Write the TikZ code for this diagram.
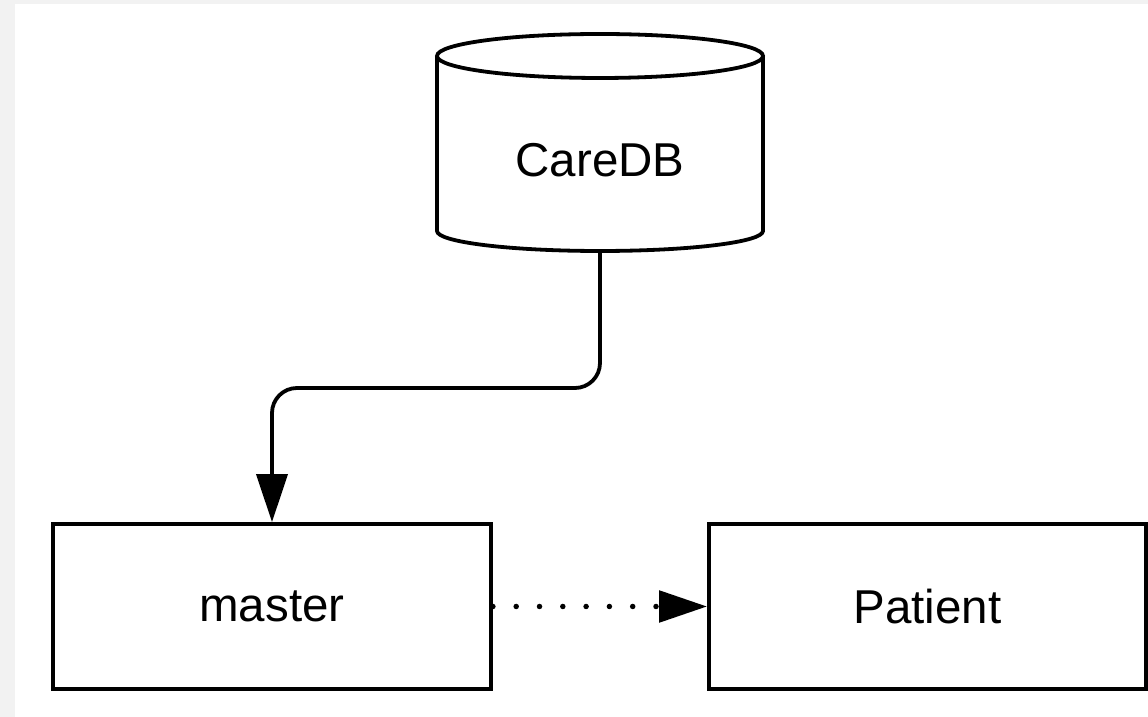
\documentclass[tikz,border=0pt]{standalone}
\usepackage{fontspec}
\setmainfont{Liberation Sans}
\usetikzlibrary{arrows.meta}
\definecolor{bggray}{HTML}{F2F2F2}
\tikzset{
  box/.style={draw=black, line width=3.8pt, minimum width=438pt, minimum height=165pt, inner sep=0pt, font=\fontsize{47.5}{57}\selectfont},
  conn/.style={line width=3.8pt, -{Triangle[length=48pt,width=31pt]}},
  dotconn/.style={line width=5.5pt, line cap=round, dash pattern=on 0pt off 23.3pt, -{Triangle[length=48pt,width=31pt]}},
}
\begin{document}
\begin{tikzpicture}[x=1pt,y=1pt]
\useasboundingbox (0,0) rectangle (1148,717);
\fill[bggray] (0,0) rectangle (1148,717);
\fill[white] (15,0) rectangle (1148,713);
% cylinder
\draw[line width=3.8pt, line join=round] (437,661) -- (437,486) arc[start angle=180, end angle=360, x radius=163pt, y radius=20pt] -- (763,661);
\draw[line width=3.8pt] (600,661) ellipse[x radius=163pt, y radius=22pt];
\node[inner sep=0pt, minimum width=326pt, minimum height=150pt, font=\fontsize{47.5}{57}\selectfont] (db) at (600,557) {CareDB};
\coordinate (dbbottom) at (600,466);
\node[box] (master) at (272,110.5) {master};
\node[box, minimum width=437pt] (patient) at (927.5,110.5) {Patient};
\draw[conn, rounded corners=25pt] (dbbottom) -- (600,329) -- (272,329) -- (master.north);
\draw[dotconn] (master.east) -- (patient.west);
\end{tikzpicture}
\end{document}
